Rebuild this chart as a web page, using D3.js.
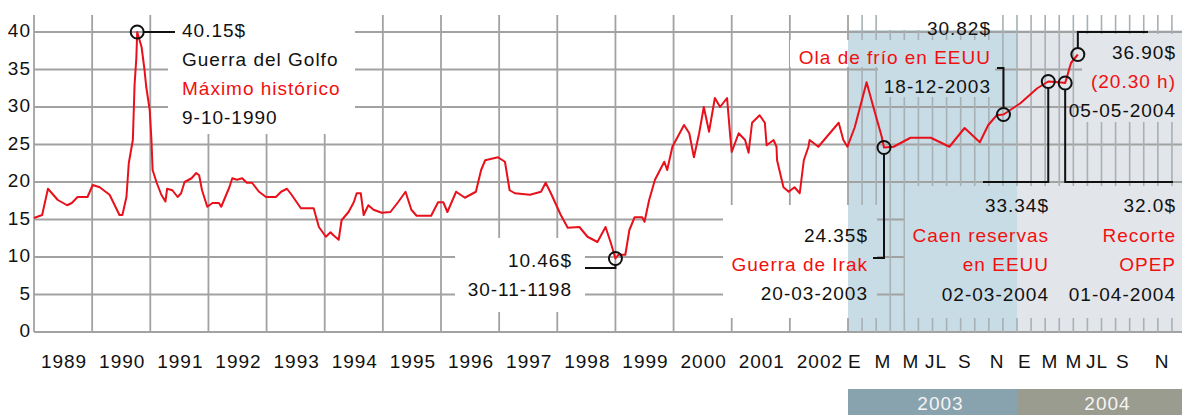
<!DOCTYPE html>
<html><head><meta charset="utf-8">
<script src="https://cdn.jsdelivr.net/npm/d3@7/dist/d3.min.js"></script>
<style>
html,body{margin:0;padding:0;background:#fff;}
svg{display:block;}
text{font-family:"Liberation Sans",Arial,sans-serif;font-size:19px;letter-spacing:1px;}
</style></head><body>
<svg id="c" width="1182" height="415"></svg>
<script>
// ---- data (time in decimal years, price in $ per barrel) ----
const times = [1989.00,1989.14,1989.24,1989.41,1989.57,1989.65,1989.75,1989.92,1990.01,1990.13,1990.30,1990.47,1990.52,1990.59,1990.63,1990.70,1990.73,1990.76,1990.775,1990.85,1990.90,1990.93,1990.99,1991.02,1991.04,1991.11,1991.19,1991.26,1991.29,1991.38,1991.47,1991.53,1991.59,1991.71,1991.79,1991.84,1991.89,1991.98,1992.07,1992.18,1992.22,1992.36,1992.41,1992.49,1992.58,1992.66,1992.75,1992.87,1992.99,1993.16,1993.25,1993.35,1993.43,1993.59,1993.81,1993.90,1994.02,1994.10,1994.15,1994.24,1994.29,1994.41,1994.50,1994.55,1994.62,1994.67,1994.75,1994.84,1994.98,1995.13,1995.27,1995.39,1995.49,1995.58,1995.83,1995.95,1996.04,1996.11,1996.26,1996.41,1996.60,1996.69,1996.76,1996.98,1997.10,1997.18,1997.27,1997.53,1997.72,1997.80,1997.89,1998.06,1998.18,1998.38,1998.52,1998.69,1998.83,1998.92,1999.00,1999.05,1999.17,1999.24,1999.33,1999.46,1999.50,1999.58,1999.68,1999.84,1999.89,1999.98,2000.18,2000.27,2000.35,2000.44,2000.52,2000.61,2000.71,2000.80,2000.92,2000.97,2001.00,2001.12,2001.23,2001.29,2001.35,2001.48,2001.57,2001.60,2001.72,2001.77,2001.78,2001.89,2001.98,2002.08,2002.17,2002.24,2002.32,2002.34,2002.49,2002.84,2002.92,2002.99,2003.04,2003.11,2003.15,2003.20,2003.213,2003.27,2003.37,2003.49,2003.60,2003.69,2003.78,2003.83,2003.88,2003.92,2003.96,2004.02,2004.04,2004.12,2004.185,2004.25,2004.285,2004.32,2004.36];
const prices = [15.2,15.6,19.1,17.6,16.9,17.2,18.0,18.0,19.6,19.3,18.3,15.6,15.6,18.0,22.5,25.6,33.0,36.5,40.0,38.0,35.0,32.7,29.6,25.6,21.6,19.9,18.3,17.4,19.1,18.9,18.0,18.5,20.0,20.5,21.2,20.9,18.9,16.7,17.2,17.2,16.7,19.3,20.5,20.3,20.5,19.9,19.9,18.7,18.0,18.0,18.7,19.1,18.3,16.5,16.5,14.0,12.7,13.3,12.9,12.3,14.9,16.0,17.3,18.5,18.5,15.6,16.9,16.3,15.9,16.0,17.4,18.7,16.3,15.5,15.5,17.3,17.3,16.0,18.7,17.9,18.7,21.6,22.9,23.3,22.7,18.9,18.5,18.3,18.7,19.9,18.5,15.6,13.9,14.0,12.7,12.0,14.0,11.9,9.8,10.3,10.3,13.6,15.3,15.3,14.7,17.6,20.3,22.7,21.6,24.7,27.6,26.5,23.3,26.5,30.0,26.7,31.2,30.0,31.2,26.5,24.0,26.5,25.6,23.9,27.9,28.9,27.9,24.9,25.6,24.7,22.9,19.3,18.7,19.3,18.5,22.9,24.7,25.6,24.7,27.9,25.6,24.7,27.3,33.3,30.0,26.0,24.6,24.7,25.9,25.9,24.7,27.2,25.3,27.6,28.9,29.0,29.6,30.5,30.9,32.5,33.4,33.3,33.2,35.9,37.0];

const yTicks = [0,5,10,15,20,25,30,35,40];
const yearLabels = [1989,1990,1991,1992,1993,1994,1995,1996,1997,1998,1999,2000,2001,2002];
const monthLabels = ["E","M","M","JL","S","N","E","M","M","JL","S","N"];
const monthLabelTimes = [2003.041,2003.207,2003.373,2003.521,2003.692,2003.882,2004.047,2004.195,2004.337,2004.473,2004.627,2004.858];
const periodLabels = ["2003","2004"];
const periodStarts = [2003,2004];
const periodEnds = [2004,2005];

// highlighted events
const markerTimes  = [1990.775, 1999.00, 2003.213, 2003.92, 2004.185, 2004.285, 2004.36];
const markerValues = [40.0, 9.8, 24.6, 29.0, 33.4, 33.2, 37.0];
const noteLines = [
  [["40.15$","k"],["Guerra del Golfo","k"],["Máximo histórico","r"],["9-10-1990","k"]],
  [["10.46$","k"],["30-11-1198","k"]],
  [["24.35$","k"],["Guerra de Irak","r"],["20-03-2003","k"]],
  [["30.82$","k"],["Ola de frío en EEUU","r"],["18-12-2003","k"]],
  [["33.34$","k"],["Caen reservas","r"],["en EEUU","r"],["02-03-2004","k"]],
  [["32.0$","k"],["Recorte","r"],["OPEP","r"],["01-04-2004","k"]],
  [["36.90$","k"],["(20.30 h)","r"],["05-05-2004","k"]]
];

// ---- drawing ----
const W = 1182, H = 415;
const svg = d3.select("#c");
const x = d3.scaleLinear().domain([1989, 2003, 2005]).range([34, 848, 1186]);
const y = d3.scaleLinear().domain([0, 40]).range([332, 32]);
const RED = "#e8101a", BLUE = "#c8dce5", GREY = "#e2e5e9", GRID = "#a2a2a2";
const gridTop = 15;

// shaded periods
svg.append("rect").attr("x", x(2003)).attr("y", 30).attr("width", x(2004)-x(2003)).attr("height", y(0)-30).attr("fill", BLUE);
svg.append("rect").attr("x", x(2004)).attr("y", 30).attr("width", W-x(2004)).attr("height", y(0)-30).attr("fill", GREY);

const grid = svg.append("g").attr("stroke", GRID).attr("stroke-width", 1.8).attr("fill","none");
// horizontal grid
grid.selectAll("line.h").data(yTicks).join("line")
  .attr("x1", x(1989)).attr("x2", W).attr("y1", d=>y(d)).attr("y2", d=>y(d));
// yearly vertical grid
const yearLines = d3.range(1989, 2004);
grid.selectAll("line.v").data(yearLines).join("line")
  .attr("x1", d=>x(d)).attr("x2", d=>x(d)).attr("y1", gridTop).attr("y2", y(0));
// monthly vertical grid in 2003-2004
const months = d3.range(1, 24).map(m => 2003 + m/12);
svg.append("g").attr("stroke", "#a7b0b4").attr("stroke-width", 1.6)
  .selectAll("line").data(months).join("line")
  .attr("x1", d=>x(d)).attr("x2", d=>x(d)).attr("y1", gridTop).attr("y2", y(0));

// masks behind annotation text
const masks = [
  [168, 12, 355, 134, "#fff"],
  [455, 238, 585, 312, "#fff"],
  [723, 205, 848, 318, "#fff"],
  [848, 205, 877, 318, BLUE],
  [790, 40, 848, 67, "#fff"],
  [848, 40, 995, 67, BLUE],
  [878, 67, 995, 97, BLUE],
  [880, 12, 995, 30, "#fff"],
  [905, 186, 1017, 318, BLUE],
  [1017, 186, W, 318, GREY],
  [1082, 34, W, 122, GREY]
];
svg.append("g").selectAll("rect").data(masks).join("rect")
  .attr("x", d=>d[0]).attr("y", d=>d[1]).attr("width", d=>d[2]-d[0]).attr("height", d=>d[3]-d[1]).attr("fill", d=>d[4]);

// y tick labels
svg.append("g").selectAll("text").data(yTicks).join("text")
  .attr("x", 31).attr("y", d=>y(d)+5).attr("text-anchor","end").attr("fill","#111").text(d=>d);

// x labels
svg.append("g").selectAll("text").data(yearLabels).join("text")
  .attr("x", d=>x(d+0.5)+1).attr("y", 368).attr("text-anchor","middle").attr("fill","#111").text(d=>d);
svg.append("g").selectAll("text").data(monthLabels).join("text")
  .attr("x", (d,i)=>x(monthLabelTimes[i])).attr("y", 368).attr("text-anchor","middle").attr("fill","#111").text(d=>d);

// period bars
const pb = svg.append("g");
pb.selectAll("rect").data(periodLabels).join("rect")
  .attr("x", (d,i)=>x(periodStarts[i])).attr("y", 389)
  .attr("width", (d,i)=>Math.min(W, x(periodEnds[i]))-x(periodStarts[i])).attr("height", H-389)
  .attr("fill", (d,i)=> i===0 ? "#89a3ae" : "#9b9c90");
pb.selectAll("text").data(periodLabels).join("text")
  .attr("x", (d,i)=>(x(periodStarts[i]) + Math.min(W, x(periodEnds[i])))/2 + 8).attr("y", 410)
  .attr("text-anchor","middle").attr("fill","#f4f4f4").text(d=>d);

// price line
const series = times.map((t,i)=>[t, prices[i]]);
svg.append("path").datum(series)
  .attr("fill","none").attr("stroke", RED).attr("stroke-width", 2).attr("stroke-linejoin","round")
  .attr("d", d3.line().x(d=>x(d[0])).y(d=>y(d[1])));

// leader lines (relative to marker positions)
const mx = markerTimes.map(t=>x(t)), my = markerValues.map(v=>y(v));
const R = 6.5;
const leaders = [
  [[mx[0]+R, my[0]], [175, my[0]]],
  [[mx[1], my[1]+R], [mx[1], 268], [585, 268]],
  [[mx[2], my[2]+R], [mx[2], 258], [873, 258]],
  [[mx[3], my[3]-R], [mx[3], 68], [997, 68]],
  [[mx[4], my[4]+R], [mx[4], y(20)], [983, y(20)]],
  [[mx[5], my[5]+R], [mx[5], y(20)], [1173, y(20)]],
  [[mx[6], my[6]-R], [mx[6], 32], [1148, 32]]
];
svg.append("g").selectAll("path").data(leaders).join("path")
  .attr("fill","none").attr("stroke","#111").attr("stroke-width",2)
  .attr("d", d=>d3.line()(d));

// markers
svg.append("g").selectAll("circle").data(markerTimes).join("circle")
  .attr("cx", (d,i)=>mx[i]).attr("cy", (d,i)=>my[i]).attr("r", R)
  .attr("fill","none").attr("stroke","#111").attr("stroke-width",2);

// annotation texts: [anchor x, first baseline, line gap, anchor]
const notePos = [
  [182, 37, 29, "start"],
  [572, 267, 29, "end"],
  [868, 242, 29, "end"],
  [991, 35, 29, "end"],
  [1049, 212, 29.5, "end"],
  [1176, 212, 29.5, "end"],
  [1176, 59, 29, "end"]
];
noteLines.forEach((lines, k) => {
  const p = notePos[k];
  svg.append("g").selectAll("text").data(lines).join("text")
    .attr("x", p[0]).attr("y", (d,i)=>p[1] + i*p[2]).attr("text-anchor", p[3])
    .attr("fill", d=> d[1]==="r" ? "#f01010" : "#111").text(d=>d[0]);
});
</script>
</body></html>
